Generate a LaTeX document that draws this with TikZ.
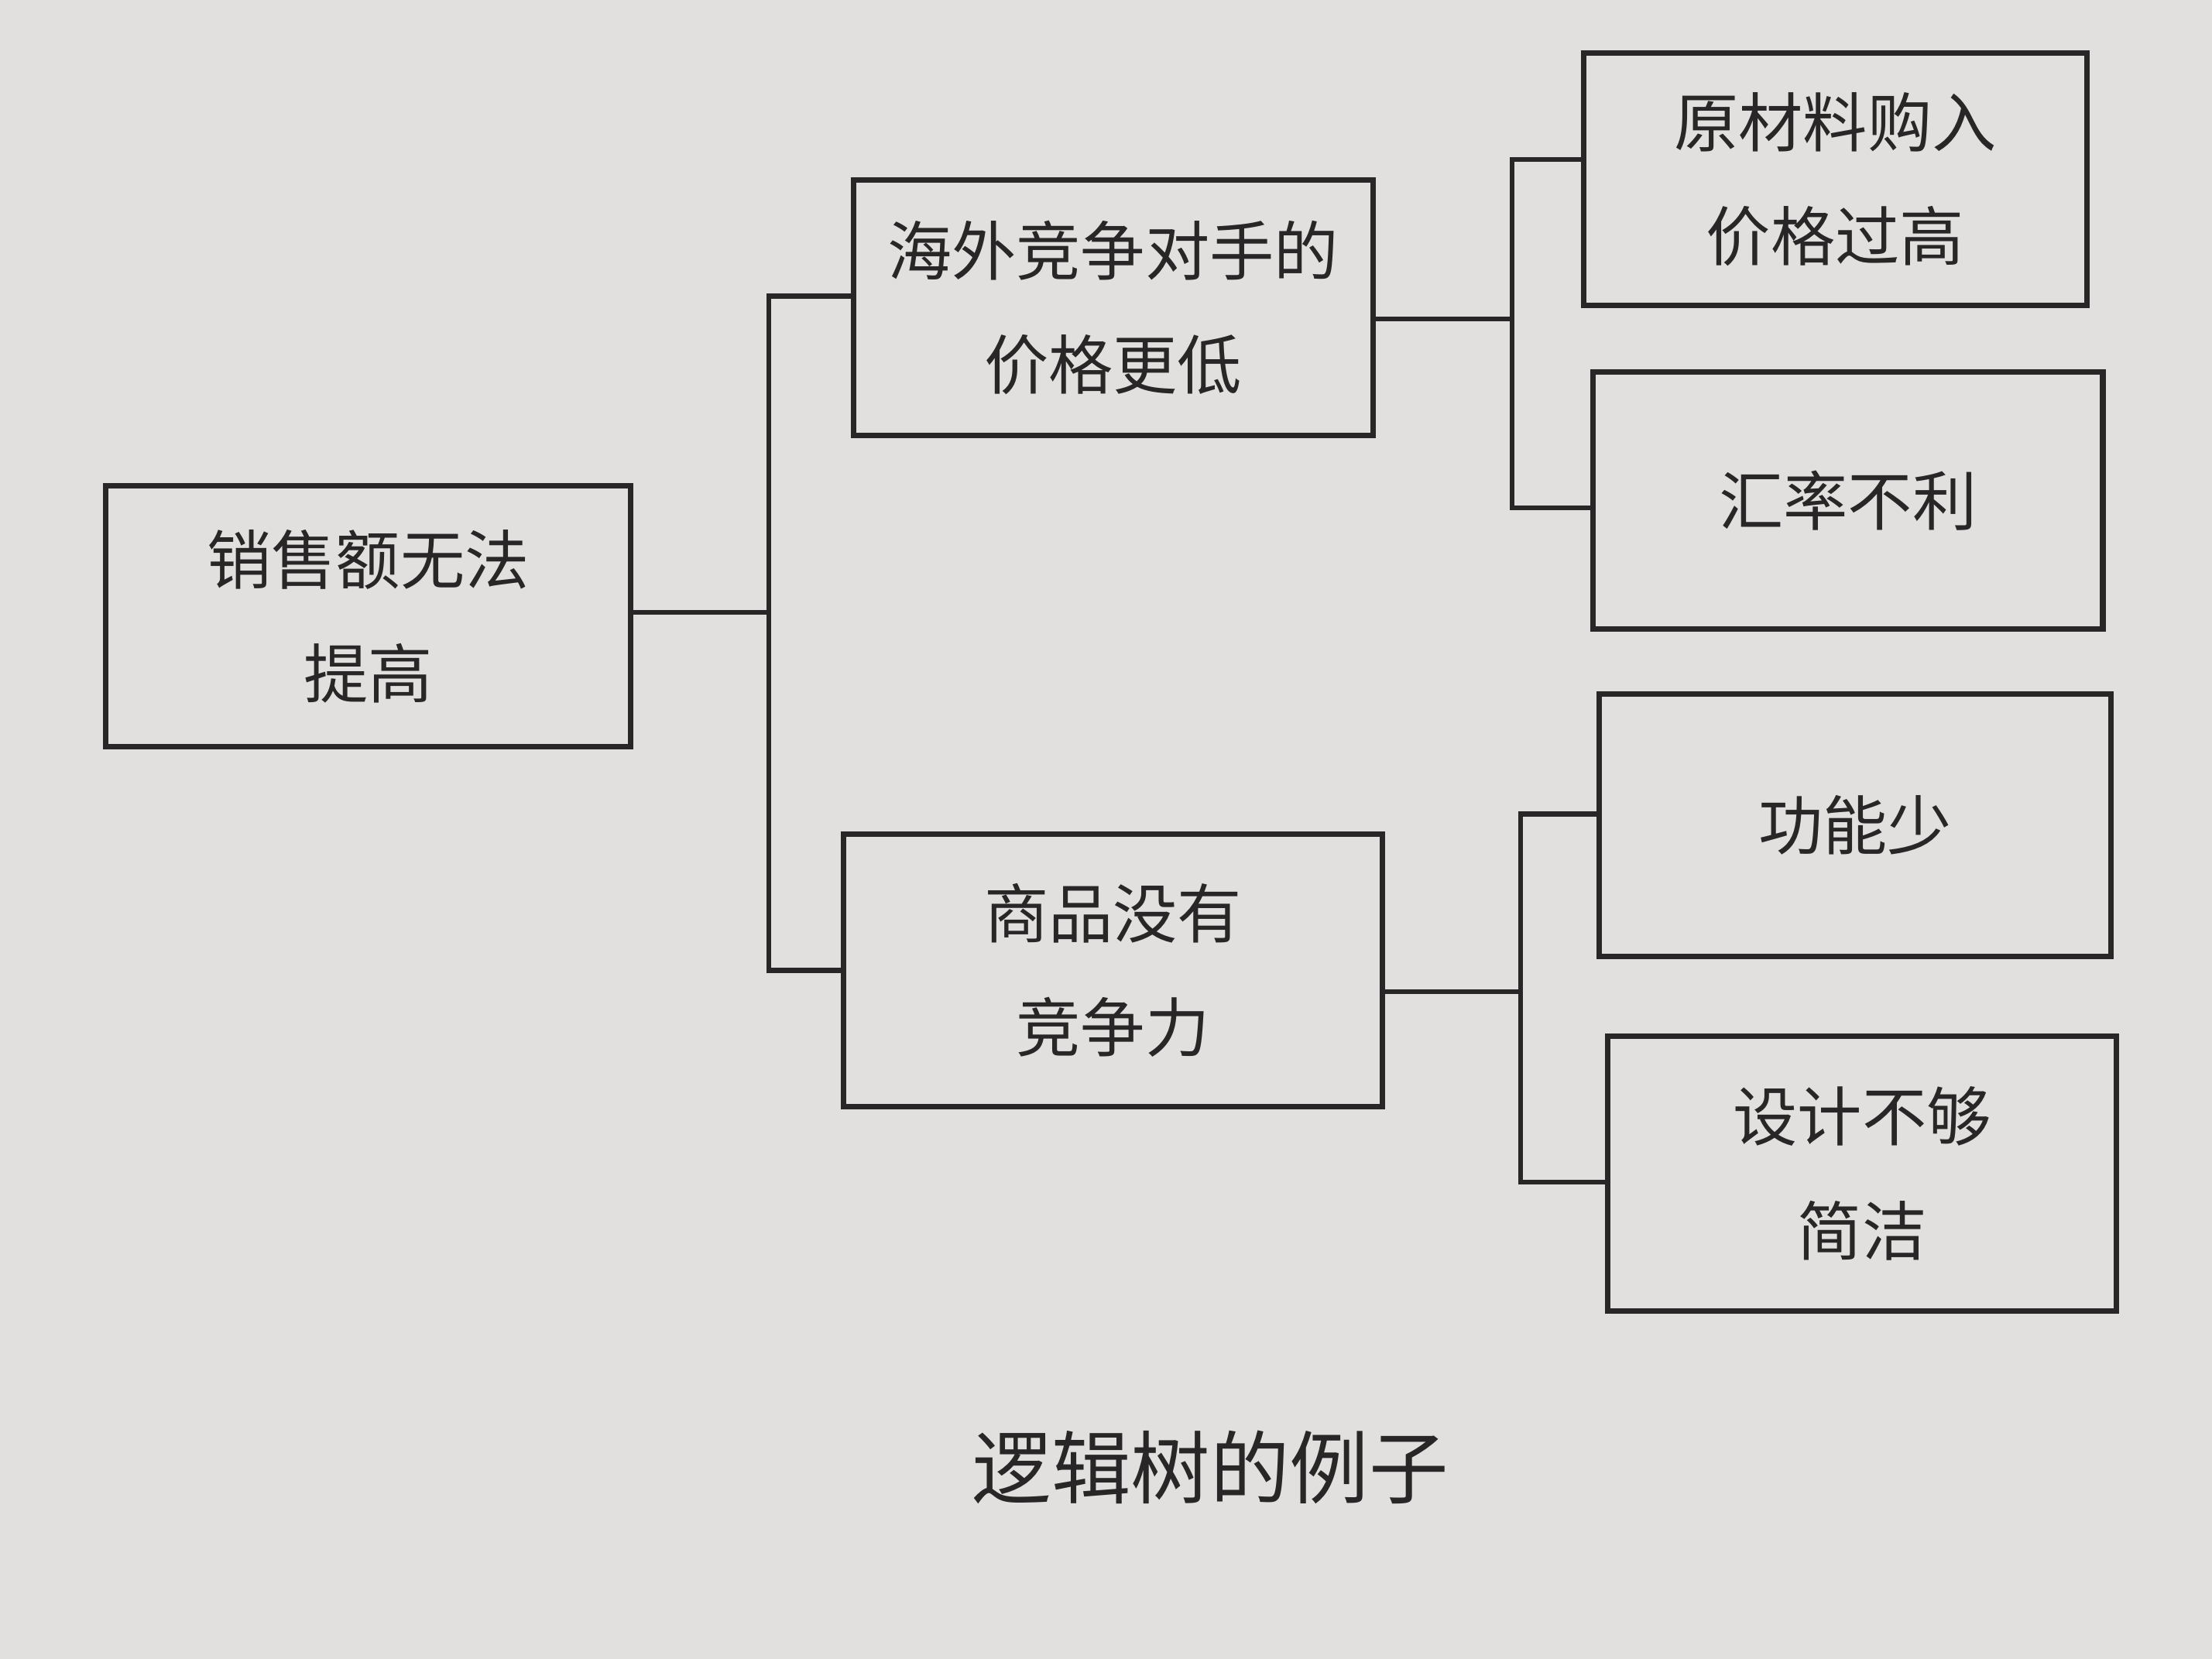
\documentclass[tikz,border=0pt]{standalone}
\usepackage{fontspec}
\setmainfont{Noto Sans CJK SC}
\usetikzlibrary{positioning}
\definecolor{paper}{RGB}{226,224,222}
\definecolor{ink}{RGB}{40,38,38}
\begin{document}
\begin{tikzpicture}[x=0.01cm,y=-0.01cm,
                    box/.style={draw=ink,line width=1.1pt,align=center,
                      text=ink,font=\fontsize{13}{23}\selectfont,inner sep=0pt},
                    link/.style={draw=ink,line width=1pt}]

  \fill[paper] (0,0) rectangle (1568,1176);

  \node[box,minimum width=3.72cm,minimum height=1.85cm] (root) at (261,437) {销售额无法\\提高};
  \node[box,minimum width=3.68cm,minimum height=1.81cm] (price) at (789,218) {海外竞争对手的\\价格更低};
  \node[box,minimum width=3.82cm,minimum height=1.93cm] (goods) at (789,688) {商品没有\\竞争力};
  \node[box,minimum width=3.57cm,minimum height=1.79cm] (cost) at (1301,127) {原材料购入\\价格过高};
  \node[box,minimum width=3.61cm,minimum height=1.82cm] (rate) at (1310,355) {汇率不利};
  \node[box,minimum width=3.63cm,minimum height=1.86cm] (func) at (1315,585) {功能少};
  \node[box,minimum width=3.60cm,minimum height=1.95cm] (design) at (1320,832) {设计不够\\简洁};

  \node[text=ink,font=\fontsize{16}{16}\selectfont] (title) at (858,1040) {逻辑树的例子};

  \coordinate (s0) at (545,434);
  \coordinate (s1) at (1072,226);
  \coordinate (s2) at (1078,703);

  \draw[link] (root.east |- s0) -- (s0);
  \draw[link] (price.west |- 0,210) -| (s0) |- (goods.west |- 0,688);
  \draw[link] (price.east |- s1) -- (s1);
  \draw[link] (cost.west |- 0,113) -| (s1) |- (rate.west |- 0,360);
  \draw[link] (goods.east |- s2) -- (s2);
  \draw[link] (func.west |- 0,577) -| (s2) |- (design.west |- 0,838);
\end{tikzpicture}
\end{document}
